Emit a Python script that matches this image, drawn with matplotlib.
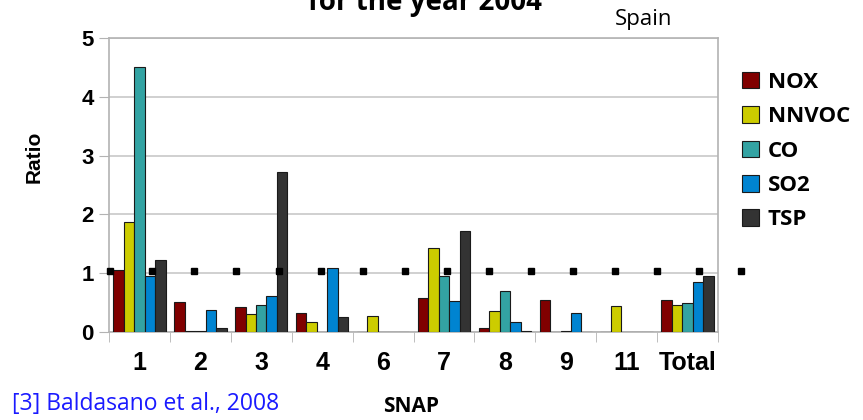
import numpy as np
from matplotlib import pyplot as plt

snap = ['1', '2', '3', '4', '6', '7', '8', '9', '11', 'Total']
nox = [1.05, 0.51, 0.43, 0.33, 0.0, 0.58, 0.07, 0.55, 0.0, 0.54]
nnvoc = [1.87, 0.02, 0.30, 0.17, 0.28, 1.43, 0.36, 0.0, 0.45, 0.46]
co = [4.50, 0.01, 0.46, 0.0, 0.0, 0.96, 0.70, 0.01, 0.0, 0.50]
so2 = [0.95, 0.37, 0.61, 1.09, 0.0, 0.53, 0.17, 0.33, 0.0, 0.85]
tsp = [1.22, 0.07, 2.72, 0.25, 0.0, 1.71, 0.02, 0.0, 0.0, 0.95]
ref_level = [1.04] * 16

series = [('NOX', nox, '#800000'),
          ('NNVOC', nnvoc, '#cccc00'),
          ('CO', co, '#33a3a3'),
          ('SO2', so2, '#0084d1'),
          ('TSP', tsp, '#333333')]

fig = plt.figure(figsize=(8.63, 4.20), dpi=100)
ax = fig.add_axes([109 / 863, 1 - 332 / 420, 609 / 863, 294 / 420])

x = np.arange(len(snap))
w = 0.172
for k, (name, vals, col) in enumerate(series):
    ax.bar(x + (k - 2) * w, vals, w, color=col, edgecolor='#1a1a1a',
           linewidth=0.8, label=name, zorder=3)

# reference markers at ratio ~1
ref_x = -0.48 + 0.691 * np.arange(len(ref_level))
ax.plot(ref_x, ref_level, 's', color='black', markersize=5,
        clip_on=False, zorder=4)

ax.set_xlim(-0.5, len(snap) - 0.5)
ax.set_ylim(0, 5)
ax.set_yticks(range(6))
ax.set_xticks(x)
ax.set_xticklabels(snap)
ax.set_xticks(np.arange(-0.5, len(snap)), minor=True)
ax.tick_params(axis='x', which='major', length=0, pad=14)
ax.tick_params(axis='x', which='minor', length=7, color='#b3b3b3', direction='out')
ax.tick_params(axis='y', length=7, color='#b3b3b3', direction='out', pad=4)
for lab in ax.get_xticklabels():
    lab.set_fontfamily('Liberation Sans')
    lab.set_fontweight('bold')
    lab.set_fontsize(18)
for lab in ax.get_yticklabels():
    lab.set_fontfamily('Liberation Sans')
    lab.set_fontweight('bold')
    lab.set_fontsize(16)

ax.grid(axis='y', color='#c8c8c8', linewidth=1.2, zorder=0)
for s in ax.spines.values():
    s.set_color('#b3b3b3')
    s.set_linewidth(1.2)

fig.legend(loc='upper left', bbox_to_anchor=(733 / 863, 1 - 63 / 420),
           frameon=False, prop={'family': 'Open Sans', 'weight': 'bold', 'size': 16},
           handlelength=0.77, handleheight=0.77, handletextpad=0.4,
           labelspacing=0.6, borderaxespad=0)

fig.text(0.4925, 1 - 10 / 420, 'for the year 2004', ha='center', va='baseline',
         family='Open Sans', weight='bold', fontsize=20)
fig.text(644 / 863, 1 - 19 / 420, 'Spain', ha='center', va='center',
         family='Open Sans', fontsize=16)
fig.text(12 / 863, 1 - 404 / 420, '[3] Baldasano et al., 2008', ha='left', va='center',
         family='Open Sans', fontsize=16.5, color='#1a1aff')
fig.text(411 / 863, 1 - 406 / 420, 'SNAP', ha='center', va='center',
         family='Open Sans', weight='bold', fontsize=15)
fig.text(34 / 863, 1 - 157 / 420, 'Ratio', ha='center', va='center', rotation=90,
         family='Liberation Sans', weight='bold', fontsize=15)

plt.savefig('out.png', dpi=100)
